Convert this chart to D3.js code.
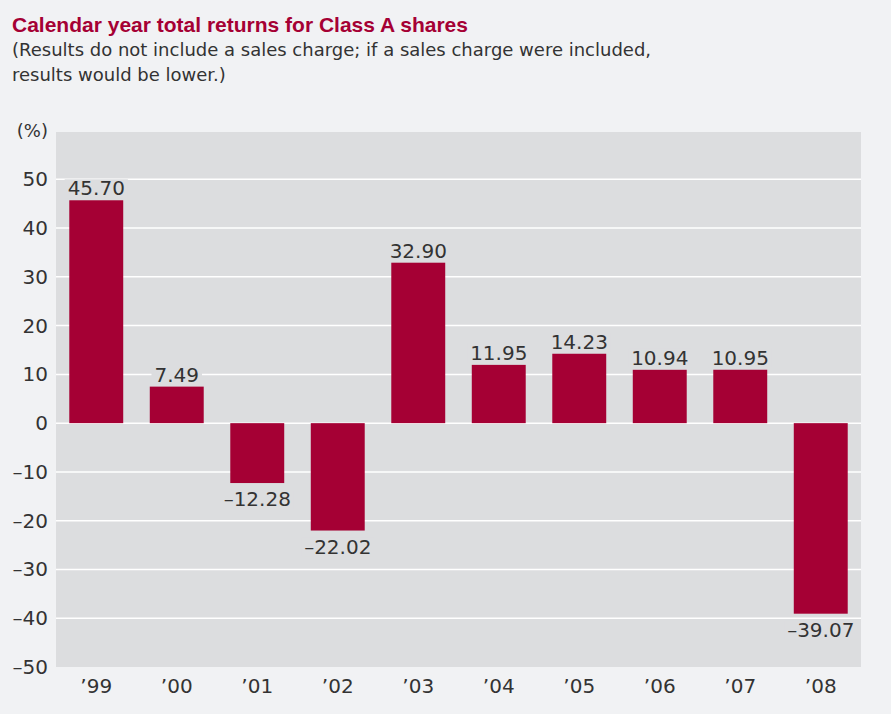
<!DOCTYPE html>
<html>
<head>
<meta charset="utf-8">
<script src="https://cdn.jsdelivr.net/npm/d3@7"></script>
<style>
  body { margin: 0; background: #f1f2f4; }
  svg { display: block; }
  text { font-family: "DejaVu Sans", sans-serif; }
</style>
</head>
<body>
<script>
// data
var years = ["\u201999", "\u201900", "\u201901", "\u201902", "\u201903", "\u201904", "\u201905", "\u201906", "\u201907", "\u201908"];
var returns = [45.70, 7.49, -12.28, -22.02, 32.90, 11.95, 14.23, 10.94, 10.95, -39.07];
var yTicks = [50, 40, 30, 20, 10, 0, -10, -20, -30, -40, -50];

var W = 891, H = 714;
var margin = { top: 132, right: 30, bottom: 47, left: 56 };
var width = W - margin.left - margin.right;
var height = H - margin.top - margin.bottom;

var svg = d3.select("body").append("svg")
  .attr("width", W)
  .attr("height", H);

svg.append("rect").attr("width", W).attr("height", H).attr("fill", "#f1f2f4");

// title + note
svg.append("text")
  .attr("x", 12).attr("y", 32)
  .attr("fill", "#a50034")
  .style("font-family", "Liberation Sans, Arial, sans-serif")
  .style("font-size", "21px")
  .style("font-weight", "bold")
  .text("Calendar year total returns for Class A shares");

var note = ["(Results do not include a sales charge; if a sales charge were included,",
            "results would be lower.)"];
svg.selectAll(".note")
  .data(note)
  .enter().append("text")
  .attr("class", "note")
  .attr("x", 12)
  .attr("y", function(d, i) { return 56 + i * 25; })
  .attr("fill", "#333")
  .style("font-size", "18px")
  .text(function(d) { return d; });

var g = svg.append("g").attr("transform", "translate(" + margin.left + "," + margin.top + ")");

var x = d3.scaleBand().domain(years).range([0, width]).paddingInner(0.33).paddingOuter(0.165);
var y = d3.scaleLinear().domain([-50, 59.7]).range([height, 0]);

function fmt(v) {
  return v < 0 ? "\u2013" + d3.format(".2f")(-v) : d3.format(".2f")(v);
}
function fmtTick(v) {
  return v < 0 ? "\u2013" + (-v) : "" + v;
}

// plot background
g.append("rect").attr("width", width).attr("height", height).attr("fill", "#dcdddf");

// gridlines
g.selectAll(".grid")
  .data(yTicks.filter(function(d) { return d > -50; }))
  .enter().append("line")
  .attr("x1", 0).attr("x2", width)
  .attr("y1", function(d) { return y(d); })
  .attr("y2", function(d) { return y(d); })
  .attr("stroke", "#fff")
  .attr("stroke-width", 1.5);

// y axis
var yAxis = g.append("g")
  .call(d3.axisLeft(y).tickValues(yTicks).tickSize(0).tickPadding(8).tickFormat(fmtTick));
yAxis.select(".domain").remove();
yAxis.selectAll("text")
  .attr("fill", "#333")
  .style("font-size", "20px")
  .style("font-family", "DejaVu Sans, sans-serif");

g.append("text")
  .attr("x", -8).attr("y", 5)
  .attr("text-anchor", "end")
  .attr("fill", "#333")
  .style("font-size", "18px")
  .text("(%)");

// x axis
var xAxis = g.append("g")
  .attr("transform", "translate(0," + height + ")")
  .call(d3.axisBottom(x).tickSize(0).tickPadding(12));
xAxis.select(".domain").remove();
xAxis.selectAll("text")
  .attr("fill", "#333")
  .style("font-size", "20px")
  .style("font-family", "DejaVu Sans, sans-serif");

// bars
g.selectAll(".bar")
  .data(returns)
  .enter().append("rect")
  .attr("class", "bar")
  .attr("x", function(d, i) { return x(years[i]); })
  .attr("width", x.bandwidth())
  .attr("y", function(d) { return y(Math.max(0, d)); })
  .attr("height", function(d) { return Math.abs(y(d) - y(0)); })
  .attr("fill", "#a50034");

// value labels with knockout background
var labels = g.selectAll(".lbl")
  .data(returns)
  .enter().append("g")
  .attr("class", "lbl")
  .attr("transform", function(d, i) {
    var cx = x(years[i]) + x.bandwidth() / 2;
    var ty = d >= 0 ? y(d) - 5 : y(d) + 23;
    return "translate(" + cx + "," + ty + ")";
  });

labels.append("rect")
  .attr("fill", "#dcdddf");

labels.append("text")
  .attr("text-anchor", "middle")
  .attr("fill", "#333")
  .style("font-size", "20px")
  .text(fmt);

labels.each(function() {
  var t = d3.select(this).select("text").node().getBBox();
  d3.select(this).select("rect")
    .attr("x", t.x - 3).attr("y", t.y + 3)
    .attr("width", t.width + 6).attr("height", t.height - 5);
});
</script>
</body>
</html>
